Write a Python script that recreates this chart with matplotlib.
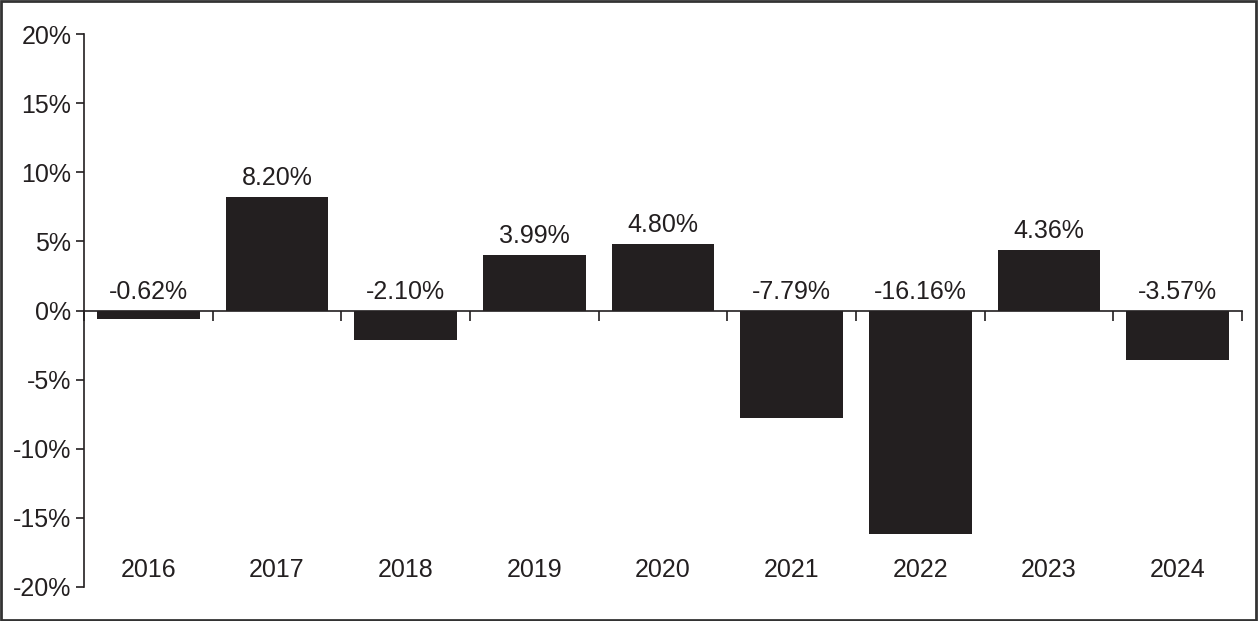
import matplotlib.pyplot as plt
from matplotlib.patches import Rectangle
import numpy as np

years = ["2016", "2017", "2018", "2019", "2020", "2021", "2022", "2023", "2024"]
returns = [-0.62, 8.20, -2.10, 3.99, 4.80, -7.79, -16.16, 4.36, -3.57]
yticks = [-20, -15, -10, -5, 0, 5, 10, 15, 20]

plt.rcParams['font.family'] = ['Liberation Sans', 'DejaVu Sans']
ink = '#231f20'

fig = plt.figure(figsize=(12.59, 6.21), dpi=100)
ax = fig.add_axes([84/1259, 34/621, (1242-84)/1259, (587-34)/621])

x = np.arange(len(years))
ax.bar(x, returns, width=0.8, color=ink)

# value labels above bar top (or above zero line for negatives)
for xi, v in zip(x, returns):
    ax.annotate("{:.2f}%".format(v), (xi, max(v, 0)), xytext=(0, 5),
                textcoords='offset points', ha='center', va='bottom',
                fontsize=18, color=ink)

# year labels at the bottom of the plot area
for xi, yr in zip(x, years):
    ax.text(xi, 0.031, yr, transform=ax.get_xaxis_transform(),
            ha='center', va='center', fontsize=18, color=ink)

ax.set_xlim(-0.5, len(years) - 0.5)
ax.set_ylim(-20, 20)
ax.set_yticks(yticks)
ax.set_yticklabels(["{:d}%".format(t) for t in yticks])
ax.tick_params(axis='y', length=6, width=1.2, pad=3, labelsize=18,
               colors=ink, direction='out')

ax.set_xticks(np.arange(len(years) + 1) - 0.5)
ax.set_xticklabels([])
ax.tick_params(axis='x', length=7, width=1.2, direction='out', colors=ink)

ax.spines['top'].set_visible(False)
ax.spines['right'].set_visible(False)
ax.spines['bottom'].set_position(('data', 0))
ax.spines['bottom'].set_color(ink)
ax.spines['left'].set_color(ink)
ax.spines['bottom'].set_linewidth(1.2)
ax.spines['left'].set_linewidth(1.2)

# frame round the whole picture
fig.patches.append(Rectangle((0.001, 0.002), 0.997, 0.996, transform=fig.transFigure,
                             fill=False, edgecolor='#333333', linewidth=2))

fig.savefig("out.png", dpi=100)
